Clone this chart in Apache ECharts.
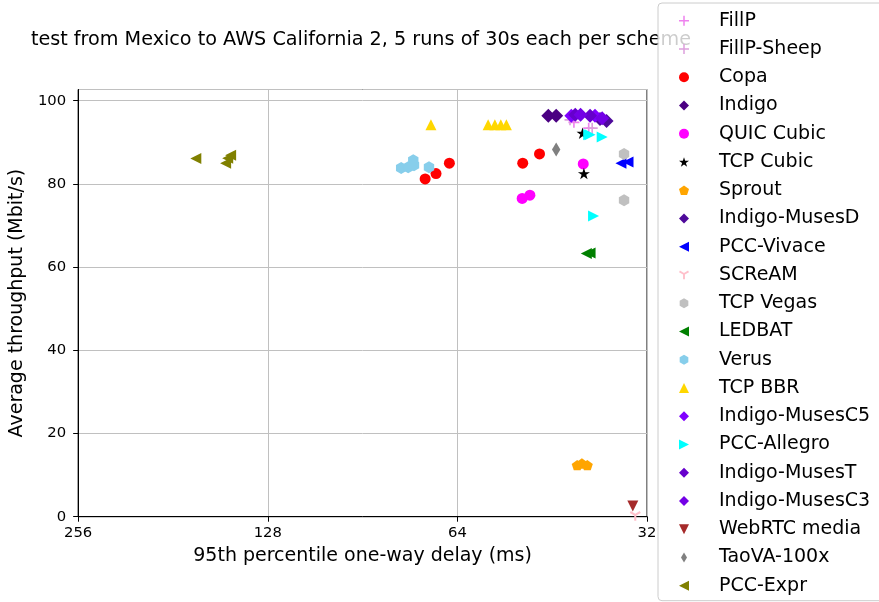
<!DOCTYPE html>
<html>
<head>
<meta charset="utf-8">
<script src="https://cdn.jsdelivr.net/npm/echarts@6/dist/echarts.min.js"></script>
<style>
  html, body { margin: 0; padding: 0; background: #fff; }
  #chart { width: 879px; height: 602px; }
</style>
</head>
<body>
<div id="chart"></div>
<script>
// values: [delay ms, throughput Mbit/s]
var fillp = [[41.8, 94.8], [39.6, 93.4]];
var fillpSheep = [[42.4, 95.4], [39.1, 93.4]];
var copa = [[72.0, 81.2], [69.2, 82.5], [65.9, 85.0], [50.4, 85.0], [47.4, 87.2]];
var indigo = [[45.9, 96.4], [44.6, 96.4]];
var quicCubic = [[40.4, 84.8], [50.5, 76.5], [49.1, 77.3]];
var tcpCubic = [[40.5, 92.2], [40.3, 82.5]];
var sprout = [[41.3, 12.4], [40.6, 12.8], [39.8, 12.4]];
var indigoMusesD = [[37.1, 95.1], [38.0, 95.6]];
var pccVivace = [[35.2, 85.0], [34.3, 85.3]];
var scream = [[33.4, 0.2]];
var tcpVegas = [[34.8, 87.2], [34.8, 76.1]];
var ledbat = [[39.95, 63.3], [39.4, 63.4]];
var verus = [[78.6, 83.8], [76.6, 84.0], [75.2, 85.7], [75.0, 84.5], [71.0, 84.0]];
var tcpBbr = [[70.5, 94.2], [57.2, 94.2], [55.8, 94.2], [54.6, 94.2], [53.5, 94.2]];
var indigoMusesC5 = [[42.2, 96.4], [38.7, 96.4]];
var pccAllegro = [[39.6, 91.8], [39.4, 91.8], [37.7, 91.3], [38.9, 72.3]];
var indigoMusesT = [[41.6, 96.6], [39.4, 96.4]];
var indigoMusesC3 = [[40.8, 96.6], [37.7, 95.8]];
var webrtc = [[33.7, 2.6]];
var taova = [[44.6, 88.3]];
var pccExpr = [[166.5, 86.1], [149.3, 85.0], [148.2, 86.2], [146.6, 86.9]];

var xTicks = [32, 64, 128, 256];
var yTicks = [0, 20, 40, 60, 80, 100];

var FONT = 'DejaVu Sans';

// marker shapes (matplotlib-like)
var PLUS = 'path://M-1.5,-10L1.5,-10L1.5,-1.5L10,-1.5L10,1.5L1.5,1.5L1.5,10L-1.5,10L-1.5,1.5L-10,1.5L-10,-1.5L-1.5,-1.5Z';
var STAR = 'path://M0,-10L2.245,-3.09L9.511,-3.09L3.633,1.18L5.878,8.09L0,3.82L-5.878,8.09L-3.633,1.18L-9.511,-3.09L-2.245,-3.09Z';
var PENTA = 'path://M0,-10L9.511,-3.09L5.878,8.09L-5.878,8.09L-9.511,-3.09Z';
var HEXA = 'path://M0,-10L8.66,-5L8.66,5L0,10L-8.66,5L-8.66,-5Z';
var TRIDOWN = 'path://M-1.8,10L1.8,10L1.8,1.04L9.56,-3.44L7.76,-6.56L0,-2.08L-7.76,-6.56L-9.56,-3.44L-1.8,1.04Z';
var THIN_D = 'path://M0,-10L6,0L0,10L-6,0Z';
var DIAM = 'path://M0,-10L10,0L0,10L-10,0Z';
var TRI_U = 'path://M0,-10L10,10L-10,10Z';
var TRI_D = 'path://M0,10L-10,-10L10,-10Z';
var TRI_L = 'path://M-10,0L10,-10L10,10Z';
var TRI_R = 'path://M10,0L-10,-10L-10,10Z';

function sc(name, data, color, symbol, size) {
    return {
        name: name,
        type: 'scatter',
        data: data,
        symbol: symbol,
        symbolSize: size,
        symbolKeepAspect: true,
        itemStyle: { color: color, opacity: 1 },
        emphasis: { disabled: true }
    };
}

var series = [
    sc('FillP', fillp, '#EE82EE', PLUS, 11),
    sc('FillP-Sheep', fillpSheep, '#DDA0DD', PLUS, 11),
    sc('Copa', copa, '#FF0000', 'circle', 11),
    sc('Indigo', indigo, '#4B0082', DIAM, 14),
    sc('QUIC Cubic', quicCubic, '#FF00FF', 'circle', 11),
    sc('TCP Cubic', tcpCubic, '#000000', STAR, 12),
    sc('Sprout', sprout, '#FFA500', PENTA, 11),
    sc('Indigo-MusesD', indigoMusesD, '#4E0A9A', DIAM, 14),
    sc('PCC-Vivace', pccVivace, '#0000FF', TRI_L, 11),
    sc('SCReAM', scream, '#FFC0CB', TRIDOWN, 11),
    sc('TCP Vegas', tcpVegas, '#C0C0C0', HEXA, 12),
    sc('LEDBAT', ledbat, '#008000', TRI_L, 11),
    sc('Verus', verus, '#87CEEB', HEXA, 12),
    sc('TCP BBR', tcpBbr, '#FFD700', TRI_U, 11),
    sc('Indigo-MusesC5', indigoMusesC5, '#8000FF', DIAM, 14),
    sc('PCC-Allegro', pccAllegro, '#00FFFF', TRI_R, 11),
    sc('Indigo-MusesT', indigoMusesT, '#6600CC', DIAM, 14),
    sc('Indigo-MusesC3', indigoMusesC3, '#7300E6', DIAM, 14),
    sc('WebRTC media', webrtc, '#A52A2A', TRI_D, 11),
    sc('TaoVA-100x', taova, '#808080', THIN_D, 14),
    sc('PCC-Expr', pccExpr, '#808000', TRI_L, 11)
];

var option = {
    animation: false,
    backgroundColor: '#fff',
    textStyle: { fontFamily: FONT },
    title: {
        text: 'test from Mexico to AWS California 2, 5 runs of 30s each per scheme',
        left: 356,
        top: 26,
        textAlign: 'center',
        z: 1,
        textStyle: { fontFamily: FONT, fontSize: 19.2, fontWeight: 'normal', color: '#000' }
    },
    legend: {
        orient: 'vertical',
        left: 658,
        top: 3,
        zlevel: 1,
        z: 10,
        padding: [7.7, 20, 5, 21],
        itemWidth: 10,
        itemHeight: 10,
        itemGap: 8.25,
        symbolKeepAspect: true,
        backgroundColor: 'rgba(255,255,255,0.8)',
        borderColor: '#cccccc',
        borderWidth: 1,
        borderRadius: 4,
        textStyle: { fontFamily: FONT, fontSize: 19, color: '#000', lineHeight: 20, padding: [0, 0, 0, 25] },
        data: series.map(function (s) { return { name: s.name, icon: s.symbol }; })
    },
    grid: {
        left: 76,
        right: 232,
        top: 89.5,
        bottom: 85.3,
        show: true,
        borderColor: '#000',
        borderWidth: 1
    },
    xAxis: {
        type: 'log',
        logBase: 2,
        min: xTicks[0],
        max: xTicks[xTicks.length - 1],
        inverse: true,
        splitNumber: 3,
        name: '95th percentile one-way delay (ms)',
        nameLocation: 'middle',
        nameGap: 30,
        nameTextStyle: { fontFamily: FONT, fontSize: 19, color: '#000' },
        axisLine: { lineStyle: { color: '#000' } },
        axisTick: { length: 5, lineStyle: { color: '#000' } },
        axisLabel: {
            margin: 9,
            fontFamily: FONT, fontSize: 14.8, color: '#000',
            formatter: function (v) { return String(Math.round(v)); }
        },
        splitLine: { show: true, lineStyle: { color: '#c0c0c0', width: 1 } }
    },
    yAxis: {
        type: 'value',
        min: yTicks[0],
        max: 102.7,
        interval: 20,
        name: 'Average throughput (Mbit/s)',
        nameLocation: 'middle',
        nameGap: 48,
        nameTextStyle: { fontFamily: FONT, fontSize: 19, color: '#000' },
        axisLine: { show: true, lineStyle: { color: '#000' } },
        axisTick: { show: true, length: 5, lineStyle: { color: '#000' } },
        axisLabel: {
            margin: 12,
            showMaxLabel: false,
            fontFamily: FONT, fontSize: 14.8, color: '#000'
        },
        splitLine: { show: true, lineStyle: { color: '#c0c0c0', width: 1 } }
    },
    series: series
};

var myChart = echarts.init(document.getElementById('chart'), null, { renderer: 'canvas' });
myChart.setOption(option);
</script>
</body>
</html>
